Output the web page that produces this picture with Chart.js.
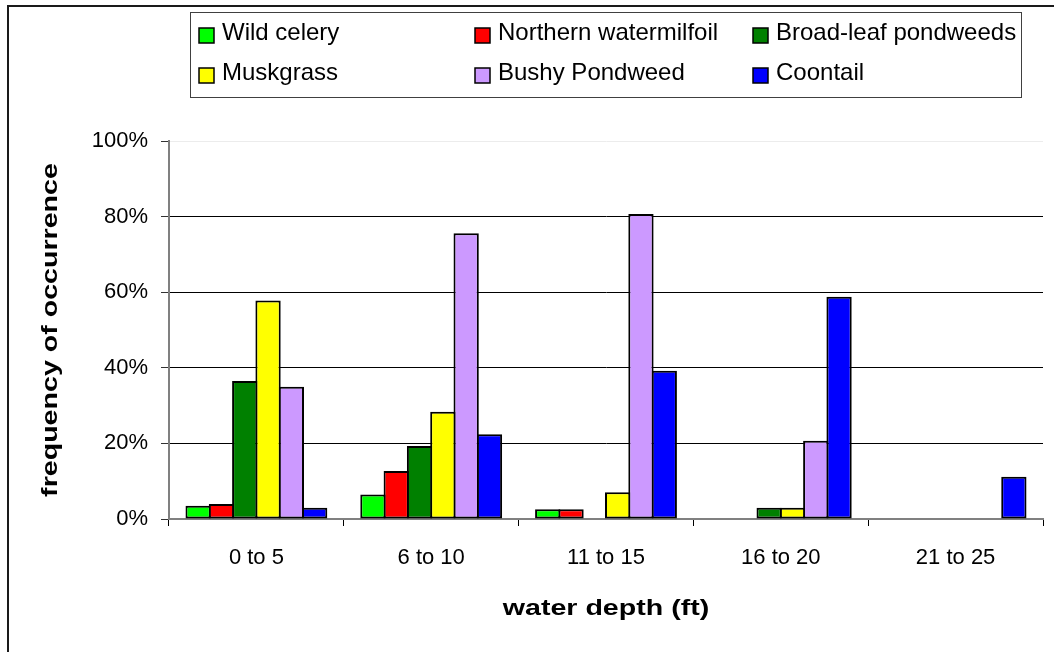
<!DOCTYPE html>
<html><head><meta charset="utf-8">
<script src="https://cdn.jsdelivr.net/npm/chart.js@4.4.1/dist/chart.umd.min.js"></script>
<style>html,body{margin:0;padding:0;background:#fff;} #wrap{width:1054px;height:652px;position:relative;}</style>
</head><body><div id="wrap"><canvas id="c"></canvas></div>
<script>
const categories = ['0 to 5', '6 to 10', '11 to 15', '16 to 20', '21 to 25'];
const wildCelery = [3.5, 6.5, 2.6, 0, 0];
const northernWatermilfoil = [4.0, 12.7, 2.6, 0, 0];
const broadLeafPondweeds = [36.5, 19.3, 0, 3.0, 0];
const muskgrass = [57.8, 28.4, 7.1, 3.0, 0];
const bushyPondweed = [35.0, 75.6, 80.7, 20.7, 0];
const coontail = [3.0, 22.4, 39.2, 58.8, 11.2];
const seriesNames = ['Wild celery', 'Northern watermilfoil', 'Broad-leaf pondweeds', 'Muskgrass', 'Bushy Pondweed', 'Coontail'];
const seriesColors = ['#00FF00', '#FF0000', '#008000', '#FFFF00', '#CC99FF', '#0000FF'];
const yTicks = [0, 20, 40, 60, 80, 100];
const yTitle = 'frequency of occurrence';
const xTitle = 'water depth (ft)';

const FONT = "'Liberation Sans', Arial, sans-serif";
const seriesValues = [wildCelery, northernWatermilfoil, broadLeafPondweeds, muskgrass, bushyPondweed, coontail];

const datasets = seriesValues.map((vals, i) => ({
  label: seriesNames[i],
  data: vals,
  backgroundColor: seriesColors[i],
  borderColor: '#000',
  borderWidth: 2,
  borderSkipped: false,
  barPercentage: 1.086,
  categoryPercentage: 0.8
}));

function stretchTitle(scale, factor) {
  if (scale._stretched) return;
  const orig = scale.drawTitle;
  scale._stretched = true;
  scale.drawTitle = function () {
    const ctx = this.ctx;
    ctx.save();
    if (this.isHorizontal()) {
      const cx = (this.left + this.right) / 2;
      ctx.translate(cx, 0); ctx.scale(factor, 1); ctx.translate(-cx, 0);
    } else {
      const cy = (this.top + this.bottom) / 2;
      ctx.translate(0, cy); ctx.scale(1, factor); ctx.translate(0, -cy);
    }
    orig.call(this);
    ctx.restore();
  };
}

const framePlugin = {
  id: 'frame',
  beforeDraw(chart) {
    const ctx = chart.ctx;
    ctx.save();
    ctx.fillStyle = '#fff';
    ctx.fillRect(0, 0, chart.width, chart.height);
    ctx.strokeStyle = '#1a1a1a';
    ctx.lineWidth = 2;
    ctx.beginPath();
    ctx.moveTo(8, chart.height);
    ctx.lineTo(8, 6);
    ctx.lineTo(chart.width, 6);
    ctx.stroke();
    ctx.restore();
    stretchTitle(chart.scales.x, 1.3);
    stretchTitle(chart.scales.y, 1.3);
  }
};

const boxLegendPlugin = {
  id: 'boxLegend',
  afterDraw(chart) {
    const ctx = chart.ctx;
    ctx.save();
    ctx.strokeStyle = '#404040';
    ctx.lineWidth = 1;
    ctx.strokeRect(190.5, 12.5, 831, 85);
    const cols = [199, 475, 753];
    const baselines = [40, 80];
    ctx.font = '24px ' + FONT;
    ctx.textBaseline = 'alphabetic';
    ctx.textAlign = 'left';
    chart.data.datasets.forEach((ds, i) => {
      const x = cols[i % 3];
      const b = baselines[Math.floor(i / 3)];
      ctx.fillStyle = ds.backgroundColor;
      ctx.fillRect(x, b - 12, 15, 15);
      ctx.strokeStyle = '#000';
      ctx.lineWidth = 1.5;
      ctx.strokeRect(x, b - 12, 15, 15);
      ctx.fillStyle = '#000';
      ctx.fillText(ds.label, x + 23, b);
    });
    ctx.restore();
  }
};

new Chart(document.getElementById('c'), {
  type: 'bar',
  data: { labels: categories, datasets },
  plugins: [framePlugin, boxLegendPlugin],
  options: {
    responsive: true,
    maintainAspectRatio: false,
    animation: false,
    layout: { padding: { left: 0, right: 11, top: 141, bottom: 0 } },
    plugins: { legend: { display: false }, tooltip: { enabled: false } },
    scales: {
      x: {
        afterFit(scale) { scale.height = 133; },
        grid: { offset: true, drawOnChartArea: false, drawTicks: true, tickLength: 7, color: '#000', lineWidth: 1 },
        border: { display: true, color: '#808080', width: 2 },
        ticks: { font: { family: FONT, size: 22 }, color: '#000', padding: 19, maxRotation: 0 },
        title: { display: true, text: xTitle, font: { family: FONT, size: 22, weight: 'bold' }, color: '#000', padding: { top: 0, bottom: 30 } }
      },
      y: {
        min: 0, max: 100,
        afterFit(scale) { scale.width = 169; },
        afterBuildTicks(scale) { scale.ticks = yTicks.map(v => ({ value: v })); },
        grid: {
          color: (c) => c.tick && c.tick.value === 100 ? '#ececec' : (c.tick && c.tick.value === 0 ? '#808080' : '#000'),
          tickColor: '#333',
          tickLength: 8,
          lineWidth: 1
        },
        border: { display: true, color: '#808080', width: 2 },
        ticks: { font: { family: FONT, size: 22 }, color: '#000', padding: 13, callback: (v) => v + '%' },
        title: { display: true, text: yTitle, font: { family: FONT, size: 22, weight: 'bold' }, color: '#000', padding: { top: 38, bottom: 0 } }
      }
    }
  }
});
</script>
</body></html>
